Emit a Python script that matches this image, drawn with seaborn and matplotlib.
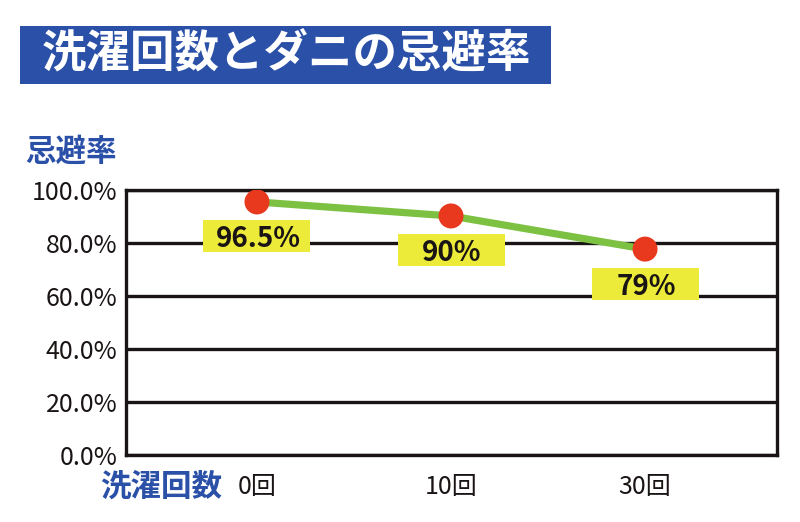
import matplotlib
matplotlib.use("Agg")
import matplotlib.pyplot as plt
from matplotlib.patches import Rectangle
from matplotlib.transforms import ScaledTranslation
import seaborn as sns
import pandas as pd

# ---- data ----
wash_counts = ["0回", "10回", "30回"]
repel_rate = [95.5, 90.2, 77.7]          # dot positions
rate_labels = ["96.5%", "90%", "79%"]     # printed labels
y_ticks = [0, 20, 40, 60, 80, 100]
y_tick_labels = ["0.0%", "20.0%", "40.0%", "60.0%", "80.0%", "100.0%"]
title_text = "洗濯回数とダニの忌避率"
y_title = "忌避率"
x_title = "洗濯回数"

sns.set_theme(style="white")
plt.rcParams['font.family'] = ['Noto Sans CJK JP', 'DejaVu Sans']

BLUE = "#2A50A8"
GREEN = "#7CC142"
RED = "#E8381E"
YELLOW = "#EDEB3A"
BLACK = "#1a1414"

W, H = 800, 522
fig = plt.figure(figsize=(W / 100, H / 100), dpi=100)
fig.patch.set_facecolor("white")
ax = fig.add_axes([126 / W, 1 - 455 / H, 651 / W, 265 / H])

df = pd.DataFrame({"count": wash_counts, "rate": repel_rate})

# grid lines
for yv in y_ticks:
    ax.axhline(yv, color=BLACK, lw=2.4, zorder=1)

sns.lineplot(data=df, x="count", y="rate", color=GREEN, lw=5.2, ax=ax,
             sort=False, zorder=3)
sns.scatterplot(data=df, x="count", y="rate", color=RED, s=18 ** 2,
                edgecolor="none", ax=ax, zorder=4)

ax.set_xlim(-0.675, 2.68)
ax.set_ylim(0, 100)
ax.set_yticks(y_ticks)
ax.set_yticklabels(y_tick_labels, fontsize=18, color=BLACK)
ax.set_xticks(range(len(wash_counts)))
ax.set_xticklabels(wash_counts, fontsize=18, color=BLACK)
ax.tick_params(axis="y", length=0, pad=6)
ax.tick_params(axis="x", length=0, pad=14)
ax.set_xlabel("")
ax.set_ylabel("")
for s in ax.spines.values():
    s.set_visible(True)
    s.set_color(BLACK)
    s.set_linewidth(2.4)

# value label boxes
for i, (v, lab) in enumerate(zip(repel_rate, rate_labels)):
    tr = fig.dpi_scale_trans + ScaledTranslation(i, v, ax.transData)
    ax.add_patch(Rectangle((-0.535, -0.505), 1.07, 0.32, transform=tr,
                           facecolor=YELLOW, edgecolor="none", zorder=5,
                           clip_on=False))
    ax.text(0.01, -0.345, lab, transform=tr, ha="center", va="center_baseline",
            fontsize=20, fontweight="bold", color=BLACK, zorder=6)

# axis titles
fig.text(25 / W, 1 - 152 / H, y_title, fontsize=22, fontweight="bold",
         color=BLUE, ha="left", va="center")
fig.text(100 / W, 1 - 487 / H, x_title, fontsize=22, fontweight="bold",
         color=BLUE, ha="left", va="center")

# title banner
fig.patches.append(Rectangle((20 / W, 1 - 84 / H), 531 / W, 58 / H,
                             transform=fig.transFigure, facecolor=BLUE,
                             edgecolor="none", zorder=0))
fig.text(286 / W, 1 - 55 / H, title_text, fontsize=32, fontweight="bold",
         color="white", ha="center", va="center")

fig.savefig("out.png", dpi=100, facecolor="white")
